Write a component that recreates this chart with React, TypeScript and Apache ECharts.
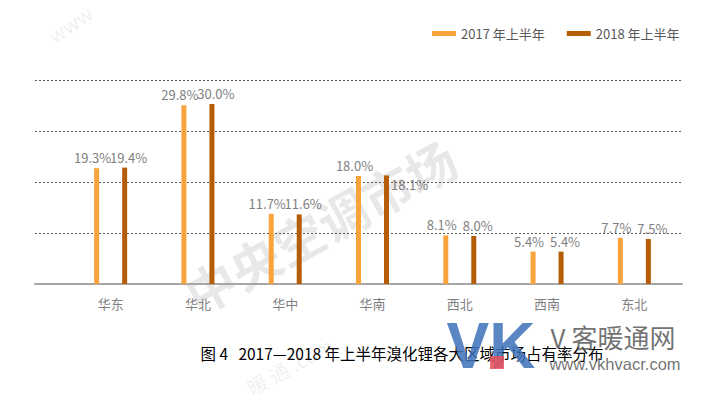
import React, { useEffect, useRef } from "react";
import * as echarts from "echarts";

const categories = ["华东", "华北", "华中", "华南", "西北", "西南", "东北"];
const series2017 = [19.3, 29.8, 11.7, 18.0, 8.1, 5.4, 7.7];
const series2018 = [19.4, 30.0, 11.6, 18.1, 8.0, 5.4, 7.5];
const seriesNames = ["2017 年上半年", "2018 年上半年"];
const titleText = "图 4   2017—2018 年上半年溴化锂各大区域市场占有率分布";

const FONT = "'Noto Sans CJK SC', 'Noto Sans', sans-serif";
const C2017 = "#F8A33C";
const C2018 = "#B55D05";

export default function App() {
  const ref = useRef<HTMLDivElement>(null);
  useEffect(() => {
    if (!ref.current) return;
    const chart = echarts.init(ref.current, undefined, { renderer: "svg" });
    const labelBase = {
      show: true,
      position: "top" as const,
      distance: 4,
      color: "#808080",
      fontSize: 13,
      fontFamily: FONT,
      formatter: (p: any) => Number(p.value).toFixed(1) + "%",
    };
    chart.setOption({
      animation: false,
      backgroundColor: "#ffffff",
      textStyle: { fontFamily: FONT },
      legend: {
        left: 427,
        top: 22,
        icon: "rect",
        itemWidth: 24,
        itemHeight: 5,
        itemGap: 22,
        textStyle: { color: "#595959", fontSize: 13, fontFamily: FONT },
        data: seriesNames,
      },
      grid: [
        { left: 35, right: 30, top: 80, bottom: 112 },
        { left: 67, right: 34, top: 80, bottom: 112 },
      ],
      xAxis: [
        {
          gridIndex: 0,
          type: "value",
          min: 0,
          max: 1,
          axisLine: { show: true, lineStyle: { color: "#a6a6a6", width: 2 } },
          axisTick: { show: false },
          axisLabel: { show: false },
          splitLine: { show: false },
        },
        {
          gridIndex: 1,
          type: "category",
          data: categories,
          axisLine: { show: false },
          axisTick: { show: false },
          axisLabel: { color: "#7f7f7f", fontSize: 13, margin: 13, fontFamily: FONT },
        },
      ],
      yAxis: [
        {
          gridIndex: 0,
          type: "value",
          min: 0,
          max: 34,
          interval: 8.5,
          axisLine: { show: false },
          axisTick: { show: false },
          axisLabel: { show: false },
          splitLine: { show: true, lineStyle: { color: "#595959", type: [2, 2], width: 1 } },
        },
        {
          gridIndex: 1,
          type: "value",
          min: 0,
          max: 34,
          interval: 8.5,
          axisLine: { show: false },
          axisTick: { show: false },
          axisLabel: { show: false },
          splitLine: { show: false },
        },
      ],
      series: [
        {
          name: seriesNames[0],
          type: "bar",
          xAxisIndex: 1,
          yAxisIndex: 1,
          data: series2017,
          barWidth: 5,
          barGap: "460%",
          itemStyle: { color: C2017 },
          label: { ...labelBase, offset: [-4, 0] },
        },
        {
          name: seriesNames[1],
          type: "bar",
          xAxisIndex: 1,
          yAxisIndex: 1,
          data: series2018.map((v, i) =>
            i === 3 ? { value: v, label: { position: [7, 3], offset: [0, 0] } } : v
          ),
          barWidth: 5,
          itemStyle: { color: C2018 },
          label: { ...labelBase, offset: [4, 0] },
        },
      ],
      graphic: [
        {
          type: "text",
          x: 320,
          y: 225,
          rotation: 0.5,
          z: -1,
          silent: true,
          style: {
            text: "中央空调市场",
            fill: "rgba(0,0,0,0.09)",
            fontSize: 50,
            fontWeight: "bold",
            fontFamily: FONT,
            align: "center",
            verticalAlign: "middle",
          },
        },
        {
          type: "text",
          x: 70,
          y: 24,
          rotation: 0.6,
          silent: true,
          style: {
            text: "www",
            fill: "rgba(0,0,0,0.08)",
            fontSize: 20,
            fontFamily: FONT,
            align: "center",
            verticalAlign: "middle",
          },
        },
        {
          type: "text",
          x: 290,
          y: 366,
          rotation: 0.5,
          silent: true,
          style: {
            text: "暖 通 .com",
            fill: "rgba(0,0,0,0.08)",
            fontSize: 20,
            fontFamily: FONT,
            align: "center",
            verticalAlign: "middle",
          },
        },
        {
          type: "text",
          x: 402,
          y: 353,
          style: {
            text: titleText,
            fill: "#000000",
            fontSize: 15.5,
            fontFamily: FONT,
            align: "center",
            verticalAlign: "middle",
          },
        },
        {
          type: "text",
          x: 491,
          y: 346,
          silent: true,
          style: {
            text: "VK",
            fill: "rgba(62,113,186,0.85)",
            fontSize: 64,
            fontWeight: "bold",
            fontFamily: "'Liberation Sans', Arial, sans-serif",
            align: "center",
            verticalAlign: "middle",
          },
        },
        {
          type: "rect",
          silent: true,
          shape: { x: 490, y: 356, width: 14, height: 13 },
          style: { fill: "rgba(235,80,90,0.85)" },
        },
        {
          type: "text",
          x: 613,
          y: 336,
          silent: true,
          style: {
            text: "V 客暖通网",
            fill: "rgba(90,90,90,0.85)",
            fontSize: 26,
            fontFamily: FONT,
            align: "center",
            verticalAlign: "middle",
          },
        },
        {
          type: "text",
          x: 615,
          y: 364,
          silent: true,
          style: {
            text: "www.vkhvacr.com",
            fill: "rgba(90,90,90,0.85)",
            fontSize: 16.5,
            fontFamily: "'Liberation Sans', Arial, sans-serif",
            align: "center",
            verticalAlign: "middle",
          },
        },
      ],
    });
    return () => chart.dispose();
  }, []);
  return (
    <div
      ref={ref}
      style={{ position: "absolute", left: 0, top: 0, width: 712, height: 396 }}
    />
  );
}
